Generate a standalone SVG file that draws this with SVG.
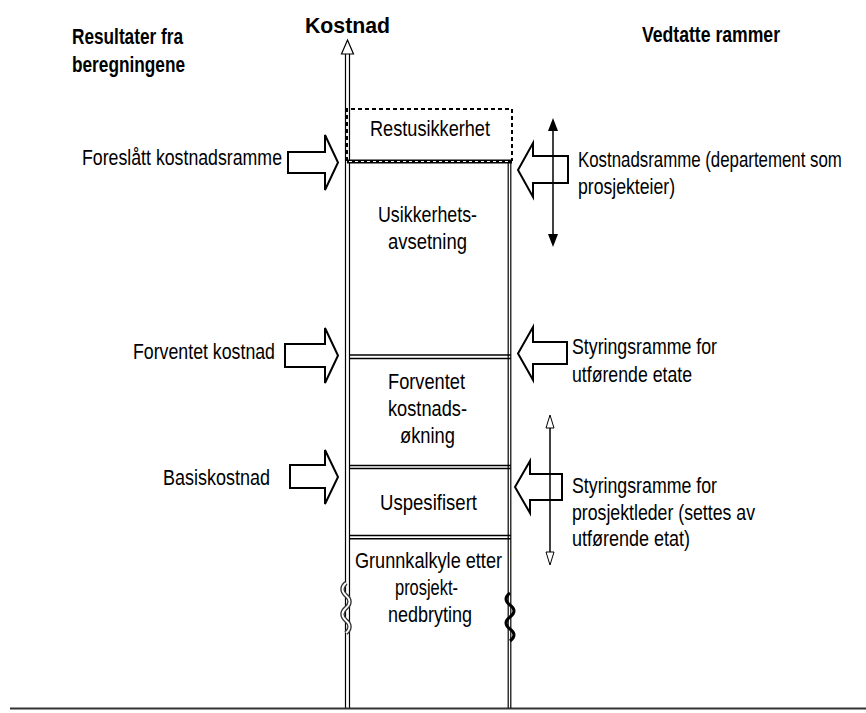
<svg xmlns="http://www.w3.org/2000/svg" width="866" height="713" viewBox="0 0 866 713">
<style>
.t{font-family:"Liberation Sans",Arial,sans-serif;font-size:22px;fill:#000}
.b{font-weight:bold}
.c{text-anchor:middle}
.ln{stroke:#000;stroke-width:1.2;fill:none}
.blk{fill:#fff;stroke:#000;stroke-width:2;stroke-linejoin:miter}
.dbl{stroke:#000;stroke-width:1.6;fill:none}
</style>
<defs>
<marker id="solidHead" markerUnits="userSpaceOnUse" markerWidth="16" markerHeight="12" viewBox="0 0 16 12" refX="0" refY="6" orient="auto-start-reverse" overflow="visible">
<path d="M0,1 L13,6 L0,11 z" fill="#000"/>
</marker>
<marker id="openHead" markerUnits="userSpaceOnUse" markerWidth="16" markerHeight="12" viewBox="0 0 16 12" refX="0" refY="6" orient="auto-start-reverse" overflow="visible">
<path d="M0,2 L13,6 L0,10 z" fill="#fff" stroke="#000" stroke-width="1"/>
</marker>
</defs>
<rect width="866" height="713" fill="#fff"/>

<!-- headings -->
<g id="headings">
<text class="t b" x="305" y="33" font-size="25" textLength="85" lengthAdjust="spacingAndGlyphs">Kostnad</text>
<text class="t b" x="72" y="44" font-size="21" textLength="111" lengthAdjust="spacingAndGlyphs">Resultater fra</text>
<text class="t b" x="72" y="72" font-size="21" textLength="113" lengthAdjust="spacingAndGlyphs">beregningene</text>
<text class="t b" x="642" y="42" textLength="138" lengthAdjust="spacingAndGlyphs">Vedtatte rammer</text>
</g>

<!-- axis -->
<g id="axis">
<line class="ln" x1="345.5" y1="54" x2="345.5" y2="708"/>
<line class="ln" x1="349.5" y1="54" x2="349.5" y2="708"/>
<polygon points="341.5,54 347.5,40 353.5,54" fill="#fff" stroke="#000" stroke-width="1.2"/>
<line x1="10" y1="708.5" x2="866" y2="708.5" stroke="#333" stroke-width="2"/>
</g>

<!-- column -->
<g id="restusikkerhet">
<path d="M347,161 V109 H512 V161" fill="none" stroke="#000" stroke-width="2" stroke-dasharray="4 3"/>
<line x1="347" y1="161.5" x2="512" y2="161.5" stroke="#000" stroke-width="4"/>
<line x1="349" y1="161.5" x2="510" y2="161.5" stroke="#fff" stroke-width="1.2" stroke-dasharray="3 3"/>
<text class="t c" x="430" y="136" textLength="120" lengthAdjust="spacingAndGlyphs">Restusikkerhet</text>
</g>

<g id="column-edge">
<line class="ln" x1="508.2" y1="163" x2="508.2" y2="708"/>
<line class="ln" x1="510.8" y1="163" x2="510.8" y2="708"/>
</g>

<g id="usikkerhetsavsetning">
<text class="t c" x="427.5" y="222" textLength="99" lengthAdjust="spacingAndGlyphs">Usikkerhets-</text>
<text class="t c" x="427.5" y="249" textLength="79" lengthAdjust="spacingAndGlyphs">avsetning</text>
<line class="dbl" x1="349.5" y1="355" x2="510.8" y2="355"/>
<line class="dbl" x1="349.5" y1="358.5" x2="510.8" y2="358.5"/>
</g>

<g id="forventet-kostnadsokning">
<text class="t c" x="426.5" y="389" textLength="77" lengthAdjust="spacingAndGlyphs">Forventet</text>
<text class="t c" x="427.5" y="416" textLength="79" lengthAdjust="spacingAndGlyphs">kostnads-</text>
<text class="t c" x="427.5" y="443" textLength="55" lengthAdjust="spacingAndGlyphs">økning</text>
<line class="dbl" x1="349.5" y1="465.5" x2="510.8" y2="465.5"/>
<line class="dbl" x1="349.5" y1="468.5" x2="510.8" y2="468.5"/>
</g>

<g id="uspesifisert">
<text class="t c" x="428.5" y="510" textLength="97" lengthAdjust="spacingAndGlyphs">Uspesifisert</text>
<line class="dbl" x1="349.5" y1="535.5" x2="510.8" y2="535.5" stroke-width="2"/>
<line class="dbl" x1="349.5" y1="538.8" x2="510.8" y2="538.8" stroke-width="2"/>
</g>

<g id="grunnkalkyle">
<text class="t c" x="428.5" y="568" textLength="147" lengthAdjust="spacingAndGlyphs">Grunnkalkyle etter</text>
<text class="t c" x="426.5" y="595" textLength="63" lengthAdjust="spacingAndGlyphs">prosjekt-</text>
<text class="t c" x="430" y="622" textLength="84" lengthAdjust="spacingAndGlyphs">nedbryting</text>
<path d="M346,583 q-7,6 0,12.5 q7,6 0,12.5 q-7,6 0,12.5 q7,6 0,12.5" fill="none" stroke="#333" stroke-width="4.5"/>
<path d="M346,583 q-7,6 0,12.5 q7,6 0,12.5 q-7,6 0,12.5 q7,6 0,12.5" fill="none" stroke="#fff" stroke-width="1.8"/>
<path d="M510,593 q-8,6 0,12 q8,6 0,12 q-8,6 0,12 q8,6 0,12" fill="none" stroke="#000" stroke-width="3"/>
</g>

<!-- left labels -->
<g id="foreslatt">
<text class="t" x="82" y="165" textLength="200" lengthAdjust="spacingAndGlyphs">Foreslått kostnadsramme</text>
</g>
<g id="forventet-kostnad">
<text class="t" x="133" y="359" textLength="142" lengthAdjust="spacingAndGlyphs">Forventet kostnad</text>
</g>
<g id="basiskostnad">
<text class="t" x="163" y="485" textLength="107" lengthAdjust="spacingAndGlyphs">Basiskostnad</text>
</g>

<!-- right labels -->
<g id="kostnadsramme">
<text class="t" transform="translate(578,167) scale(0.766,1)" x="0" y="0">Kostnadsramme (departement som</text>
<text class="t" x="578" y="194" textLength="97" lengthAdjust="spacingAndGlyphs">prosjekteier)</text>
</g>
<g id="styringsramme-etat">
<text class="t" x="572" y="354" textLength="145" lengthAdjust="spacingAndGlyphs">Styringsramme for</text>
<text class="t" x="572" y="382" textLength="120" lengthAdjust="spacingAndGlyphs">utførende etate</text>
</g>
<g id="styringsramme-prosjektleder">
<text class="t" x="572" y="493" textLength="145" lengthAdjust="spacingAndGlyphs">Styringsramme for</text>
<text class="t" x="572" y="520" textLength="183" lengthAdjust="spacingAndGlyphs">prosjektleder (settes av</text>
<text class="t" x="572" y="546" textLength="118" lengthAdjust="spacingAndGlyphs">utførende etat)</text>
</g>

<!-- connectors -->
<g id="connectors">
<polygon class="blk" points="288,152 325,152 325,135 338,162.5 325,190 325,173 288,173"/>
<polygon class="blk" points="285,344 325,344 325,328 338,355.5 325,383 325,367 285,367"/>
<polygon class="blk" points="290,465 325,465 325,450 338,477 325,504 325,488 290,488"/>
<polygon class="blk" points="568,156 533,156 533,143 518,170 533,197 533,183 568,183"/>
<polygon class="blk" points="567,342 533,342 533,327 518,353.5 533,380 533,364 567,364"/>
<polygon class="blk" points="562,474 530,474 530,461 515,487 530,513 530,500 562,500"/>
<line x1="553" y1="131" x2="553" y2="234" stroke="#000" stroke-width="1.5" marker-start="url(#solidHead)" marker-end="url(#solidHead)"/>
<line x1="550" y1="428" x2="550" y2="552" stroke="#000" stroke-width="1.5" marker-start="url(#openHead)" marker-end="url(#openHead)"/>
</g>
</svg>
